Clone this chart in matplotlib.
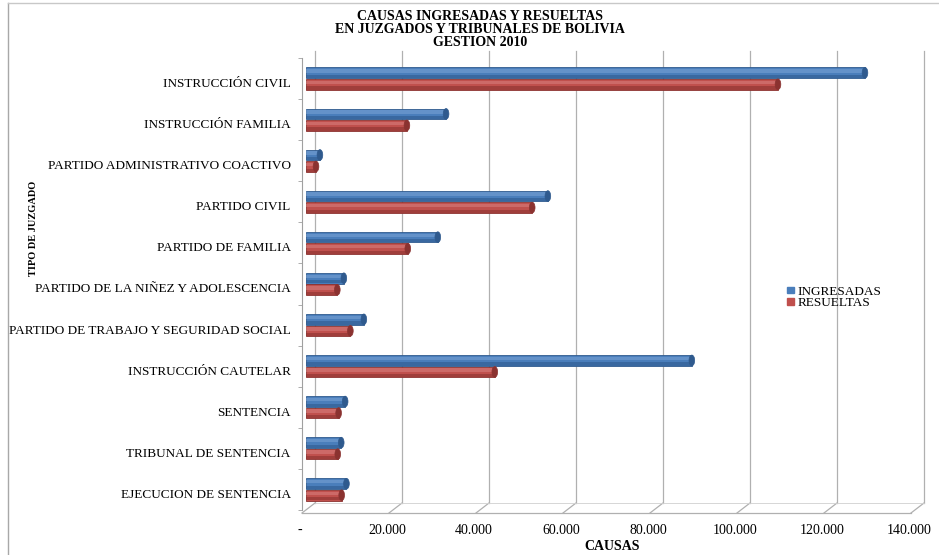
import matplotlib.pyplot as plt
import numpy as np
from matplotlib.lines import Line2D
from matplotlib.patches import Ellipse, Patch
from matplotlib.transforms import Affine2D

# Causas por tipo de juzgado, gestion 2010
tipos = [
    "INSTRUCCIÓN CIVIL",
    "INSTRUCCIÓN FAMILIA",
    "PARTIDO ADMINISTRATIVO COACTIVO",
    "PARTIDO CIVIL",
    "PARTIDO DE FAMILIA",
    "PARTIDO DE LA NIÑEZ Y ADOLESCENCIA",
    "PARTIDO DE TRABAJO Y SEGURIDAD SOCIAL",
    "INSTRUCCIÓN CAUTELAR",
    "SENTENCIA",
    "TRIBUNAL DE SENTENCIA",
    "EJECUCION DE SENTENCIA",
]
ingresadas = [128500, 32200, 3200, 55600, 30300, 8700, 13300, 88700, 9000, 8100, 9300]
resueltas = [108500, 23200, 2300, 52000, 23400, 7200, 10200, 43400, 7500, 7300, 8200]
ticks_x = [0, 20000, 40000, 60000, 80000, 100000, 120000, 140000]
titulo = ["CAUSAS INGRESADAS Y RESUELTAS", "EN JUZGADOS Y TRIBUNALES DE BOLIVIA", "GESTION 2010"]

AZUL, AZUL_OSC, AZUL_CLARO = "#4A7EBB", "#2F5A8E", "#7FA6D8"
ROJO, ROJO_OSC, ROJO_CLARO = "#C0504D", "#8B3230", "#DA8583"

plt.rcParams["font.family"] = ["Liberation Serif", "DejaVu Serif"]

W, H = 939, 555
fig = plt.figure(figsize=(W / 100, H / 100), dpi=100)
top_px, bot_px, left_px, right_px = 58, 510, 306, 915
ax = fig.add_axes([left_px / W, 1 - bot_px / H, (right_px - left_px) / W, (bot_px - top_px) / H])
ax.set_xlim(0, 140000)
ax.set_ylim(len(tipos) - 0.5, -0.5)

# desplazamientos del "piso" 3D (frente y pared del fondo), en pixeles
tf_front = ax.transData + Affine2D().translate(-4, -3)
tf_back = ax.transData + Affine2D().translate(9, 7)

y = np.arange(len(tipos))
y_bot = len(tipos) - 0.5
y_top = -0.5

# pared del fondo y piso
for v in ticks_x:
    ax.plot([v, v], [y_bot, y_top], color="#B0B0B0", lw=0.9, transform=tf_back, clip_on=False, zorder=1)
    px, py = ax.transData.transform((v, y_bot))
    ax.add_line(Line2D([px - 4, px + 9], [py - 3, py + 7], color="#B0B0B0", lw=0.9,
                       transform=None, clip_on=False))
ax.plot([0, 140000], [y_bot, y_bot], color="#B0B0B0", lw=0.9, transform=tf_front, clip_on=False)
ax.plot([0, 140000], [y_bot, y_bot], color="#D0D0D0", lw=0.6, transform=tf_back, clip_on=False)

# barras tipo cilindro
bh = 0.26
off = 0.14
cap_w = 1300


def cilindro(vals, yc, base, oscuro, claro):
    ax.barh(yc, vals, height=bh, color=base, edgecolor=oscuro, linewidth=0.6, zorder=3)
    ax.barh(yc - bh * 0.18, vals, height=bh * 0.32, color=claro, linewidth=0, alpha=0.5, zorder=4)
    ax.barh(yc + bh * 0.34, vals, height=bh * 0.3, color=oscuro, linewidth=0, alpha=0.6, zorder=4)
    for v, yy in zip(vals, yc):
        ax.add_patch(Ellipse((v, yy), cap_w, bh, facecolor=oscuro, edgecolor=oscuro, lw=0.5, zorder=5))


cilindro(ingresadas, y - off, AZUL, AZUL_OSC, AZUL_CLARO)
cilindro(resueltas, y + off, ROJO, ROJO_OSC, ROJO_CLARO)

# ejes
for s in ["top", "right", "bottom"]:
    ax.spines[s].set_visible(False)
ax.spines["left"].set_position(("outward", 3))
ax.spines["left"].set_color("#A0A0A0")
ax.spines["left"].set_linewidth(0.8)

ax.set_yticks(y)
ax.set_yticklabels(tipos, fontsize=9.5)
ax.set_yticks(np.arange(len(tipos) + 1) - 0.5, minor=True)
ax.tick_params(axis="y", which="major", length=0, pad=8)
ax.tick_params(axis="y", which="minor", length=3, color="#A0A0A0", width=0.6)
for lbl in ax.get_yticklabels():
    lbl.set_transform(lbl.get_transform() + Affine2D().translate(0, -4))

ax.set_xticks(ticks_x)
ax.set_xticklabels(["-" if v == 0 else f"{v:,}".replace(",", ".") for v in ticks_x], fontsize=10)
ax.tick_params(axis="x", length=0, pad=10)
for lbl in ax.get_xticklabels():
    lbl.set_transform(lbl.get_transform() + Affine2D().translate(-6, 0))

for i, linea in enumerate(titulo):
    fig.text(0.511, 1 - (17 + 12.5 * i) / H, linea, ha="center", va="center",
             fontsize=10, fontweight="bold")
fig.text(612 / W, 1 - 546 / H, "CAUSAS", ha="center", va="center", fontsize=10, fontweight="bold")
fig.text(33 / W, 1 - 228 / H, "TIPO DE JUZGADO", ha="center", va="center", rotation=90,
         fontsize=7.5, fontweight="bold")

fig.legend(handles=[Patch(color=AZUL, label="INGRESADAS"), Patch(color=ROJO, label="RESUELTAS")],
           loc="upper left", bbox_to_anchor=(780 / W, 1 - 279 / H), frameon=False, fontsize=9.5,
           handlelength=0.55, handleheight=0.4, handletextpad=0.25, labelspacing=-0.05, borderpad=0)

# marco exterior
fig.add_artist(Line2D([8 / W, 8 / W], [0, 1 - 3 / H], color="#A8A8A8", lw=1, transform=fig.transFigure))
fig.add_artist(Line2D([8 / W, 1], [1 - 3 / H, 1 - 3 / H], color="#C8C8C8", lw=1, transform=fig.transFigure))

fig.savefig("out.png", dpi=100)
